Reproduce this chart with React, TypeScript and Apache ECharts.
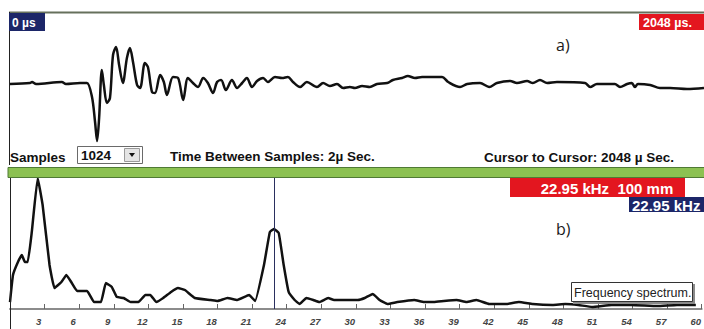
import React, { useEffect, useRef } from "react";
import * as echarts from "echarts";

// ---- Time signal (top panel), time in µs, amplitude in arbitrary units ----
const waveTime = [0, 59, 65, 77, 153, 165, 207, 227, 242, 251, 257, 263, 271, 277, 286, 295, 304, 313, 322, 333, 345, 354, 363, 375, 384, 398, 407, 419, 428, 443, 454, 463, 481, 496, 511, 525, 540, 555, 570, 584, 599, 611, 623, 637, 655, 670, 685, 699, 714, 729, 747, 761, 782, 803, 820, 835, 856, 876, 906, 924, 944, 965, 983, 1003, 1018, 1039, 1062, 1083, 1113, 1130, 1157, 1174, 1195, 1216, 1275, 1293, 1328, 1349, 1387, 1414, 1437, 1476, 1496, 1526, 1543, 1564, 1585, 1614, 1697, 1712, 1732, 1785, 1800, 1821, 1835, 1844, 1853, 1889, 1918, 1948, 1998, 2048];
const waveAmp = [0, 1, 2, 0, 2, 0, 1, 1, -13, -38, -57, -34, 14, -1, -19, -14, 29, 37, 19, 1, 26, 36, 22, -1, -4, 21, 17, -8, -9, 9, 2, -11, 7, 6, -16, 6, 1, -3, 6, 1, -9, 2, 4, -6, 4, -4, 1, 6, -3, 3, 6, 2, 7, 6, 7, 2, -3, 2, -3, 1, -2, 0, -4, -3, -4, -2, -3, 0, 1, 4, 6, 8, 6, 7, 7, 2, -3, 0, 1, -3, 1, 3, 1, 3, 1, 4, 1, 2, 1, -3, 0, 0, -3, 0, 1, -3, 0, -1, -4, -4, -5, -4];

// ---- Frequency spectrum (bottom panel), frequency in kHz, amplitude in % ----
const specFreq = [0, 0.26, 0.69, 1.03, 1.29, 1.54, 1.89, 2.4, 2.83, 3.43, 3.86, 4.46, 4.89, 5.31, 5.83, 6.69, 7.29, 7.89, 8.31, 8.83, 9.26, 9.86, 10.46, 11.14, 11.74, 12.17, 12.69, 13.29, 13.97, 14.57, 15.17, 16.03, 17.4, 18, 18.86, 19.71, 20.74, 21.26, 22.03, 22.54, 22.89, 23.31, 23.74, 24.17, 24.69, 25.11, 25.71, 26.31, 26.83, 27.6, 28.11, 29.14, 30.17, 30.77, 31.46, 32.06, 32.74, 33.6, 35.06, 35.91, 36.77, 37.63, 38.74, 39.6, 40.46, 41.57, 43.03, 44.14, 45.34, 47.06, 48.17, 49.29, 50.49, 52.2, 53.91, 56.14, 57.86, 59.49];
const specAmp = [5.3, 26, 35.9, 41.2, 35.9, 35.9, 58.8, 100, 79.4, 33.6, 16, 20.6, 26, 20.6, 13.7, 13.7, 5.3, 5.3, 19.8, 16.8, 9.2, 8.4, 5.3, 5.3, 10.7, 10.7, 5.3, 8.4, 13, 16, 14.5, 8.4, 6.9, 6.1, 8.4, 6.9, 10.7, 6.1, 33.6, 58.8, 61.1, 58, 33.6, 13, 6.9, 3.8, 8.4, 6.9, 5.3, 8.4, 6.9, 6.9, 6.9, 8.4, 11.5, 6.9, 3.8, 5.3, 6.9, 5.3, 5.3, 6.1, 6.9, 5.3, 6.9, 3.8, 3.8, 5.3, 3.8, 3.1, 3.8, 3.1, 1.5, 3.1, 3.1, 2.3, 3.1, 3.1];

const cursorFreq = 22.95;
const freqTickInterval = 3;

const timeStartLabel = "0 µs";
const timeEndLabel = "2048 µs.";
const samplesLabel = "Samples";
const samplesValue = "1024";
const timeBetweenLabel = "Time Between Samples: 2µ Sec.";
const cursorToCursorLabel = "Cursor to Cursor: 2048 µ Sec.";
const cursorRedLabel = "22.95 kHz  100 mm";
const cursorBlueLabel = "22.95 kHz";
const spectrumLabel = "Frequency spectrum.";

const RED = "#e3161f";
const NAVY = "#1c2668";
const BOLD_FONT = "'Liberation Sans', Arial, sans-serif";

function zip(a: number[], b: number[]) {
  const n = Math.min(a.length, b.length);
  const out: number[][] = [];
  for (let i = 0; i < n; i++) out.push([a[i], b[i]]);
  return out;
}

export default function App() {
  const ref = useRef<HTMLDivElement>(null);
  useEffect(() => {
    document.body.style.margin = "0";
    const chart = echarts.init(ref.current!, null, { renderer: "svg" });
    const txt = (x: number, y: number, text: string, opts: any = {}) => ({
      type: "text",
      x,
      y,
      z: 100,
      style: {
        text,
        fill: opts.fill || "#111",
        font: opts.font || `bold 13.5px ${BOLD_FONT}`,
        textAlign: opts.align || "left",
        textVerticalAlign: "middle",
      },
    });
    chart.setOption({
      animation: false,
      backgroundColor: "#ffffff",
      grid: [
        { left: 10, top: 34, width: 694, height: 116 },
        { left: 10, top: 178, width: 700, height: 131 },
      ],
      xAxis: [
        { gridIndex: 0, type: "value", min: 0, max: 2048, show: false },
        {
          gridIndex: 1,
          type: "value",
          min: 0,
          max: 60,
          interval: freqTickInterval,
          splitLine: { show: false },
          axisLine: { show: true, lineStyle: { color: "#8c8c8c", width: 2 } },
          axisTick: { show: true, inside: true, length: 5, lineStyle: { color: "#666", width: 1 } },
          axisLabel: {
            showMinLabel: false,
            margin: 7,
            padding: [0, 12, 0, 0],
            fontSize: 9.5,
            fontStyle: "italic",
            fontWeight: "bold",
            fontFamily: BOLD_FONT,
            color: "#444",
          },
        },
      ],
      yAxis: [
        { gridIndex: 0, type: "value", min: -66, max: 50, show: false },
        { gridIndex: 1, type: "value", min: 0, max: 100, show: false },
      ],
      series: [
        {
          type: "line",
          xAxisIndex: 0,
          yAxisIndex: 0,
          data: zip(waveTime, waveAmp),
          symbol: "none",
          smooth: 0.3,
          lineStyle: { color: "#111", width: 2.5, join: "round" },
        },
        {
          type: "line",
          xAxisIndex: 1,
          yAxisIndex: 1,
          data: zip(specFreq, specAmp),
          symbol: "none",
          smooth: 0.1,
          lineStyle: { color: "#111", width: 2.5, join: "round" },
          markLine: {
            silent: true,
            symbol: "none",
            label: { show: false },
            lineStyle: { color: "#2a2f5e", width: 1, type: "solid" },
            data: [{ xAxis: cursorFreq }],
          },
        },
      ],
      graphic: [
        // top panel frame
        { type: "line", z: 90, shape: { x1: 9, y1: 12.5, x2: 704, y2: 12.5 }, style: { stroke: "#66705c", lineWidth: 2 } },
        { type: "line", z: 90, shape: { x1: 9.5, y1: 12, x2: 9.5, y2: 165 }, style: { stroke: "#222", lineWidth: 1 } },
        // bottom panel frame
        { type: "line", z: 90, shape: { x1: 10.5, y1: 178, x2: 10.5, y2: 329 }, style: { stroke: "#222", lineWidth: 1 } },
        // green separator bar
        { type: "rect", z: 90, shape: { x: 8, y: 167.5, width: 700, height: 10 }, style: { fill: "#8cc152", stroke: "#4f7a35", lineWidth: 1 } },
        // time labels
        { type: "rect", z: 95, shape: { x: 9, y: 13, width: 36, height: 18 }, style: { fill: NAVY } },
        txt(12, 22.5, timeStartLabel, { fill: "#fff", font: `bold 12px ${BOLD_FONT}` }),
        { type: "rect", z: 95, shape: { x: 639, y: 14, width: 70, height: 16 }, style: { fill: RED } },
        txt(643, 22.5, timeEndLabel, { fill: "#fff", font: `bold 12.5px ${BOLD_FONT}` }),
        txt(556, 45, "a)", { font: `16px 'Open Sans', 'Noto Sans', sans-serif`, fill: "#1a1a1a" }),
        // bottom row of the time panel
        txt(10, 157.5, samplesLabel),
        { type: "rect", z: 95, shape: { x: 77.5, y: 146.5, width: 65, height: 17 }, style: { fill: "#fff", stroke: "#6a6a6a", lineWidth: 1 } },
        txt(81, 155.5, samplesValue),
        { type: "rect", z: 96, shape: { x: 124.5, y: 148.5, width: 15, height: 13 }, style: { fill: "#e4e4e4", stroke: "#9a9a9a", lineWidth: 1 } },
        { type: "polygon", z: 97, shape: { points: [[129, 153], [135, 153], [132, 157]] }, style: { fill: "#111" } },
        txt(170, 156.5, timeBetweenLabel),
        txt(484, 157.5, cursorToCursorLabel),
        // cursor labels of spectrum
        { type: "rect", z: 95, shape: { x: 510, y: 178, width: 175, height: 19 }, style: { fill: RED } },
        txt(607, 188, cursorRedLabel, { fill: "#fff", align: "center", font: `bold 15px ${BOLD_FONT}` }),
        { type: "rect", z: 95, shape: { x: 629, y: 197, width: 80, height: 15 }, style: { fill: NAVY } },
        txt(632, 205, cursorBlueLabel, { fill: "#fff", font: `bold 15px ${BOLD_FONT}` }),
        txt(556, 229, "b)", { font: `16px 'Open Sans', 'Noto Sans', sans-serif`, fill: "#1a1a1a" }),
        // legend-like box
        { type: "rect", z: 98, shape: { x: 573, y: 284, width: 122, height: 20 }, style: { fill: "#8a8a8a" } },
        { type: "rect", z: 99, shape: { x: 571.5, y: 282.5, width: 121, height: 19 }, style: { fill: "#fff", stroke: "#333", lineWidth: 1 } },
        txt(574, 292.5, spectrumLabel, { font: `12.5px ${BOLD_FONT}`, fill: "#222" }),
      ],
    });
    return () => chart.dispose();
  }, []);
  return <div ref={ref} style={{ width: 704, height: 329 }} />;
}
